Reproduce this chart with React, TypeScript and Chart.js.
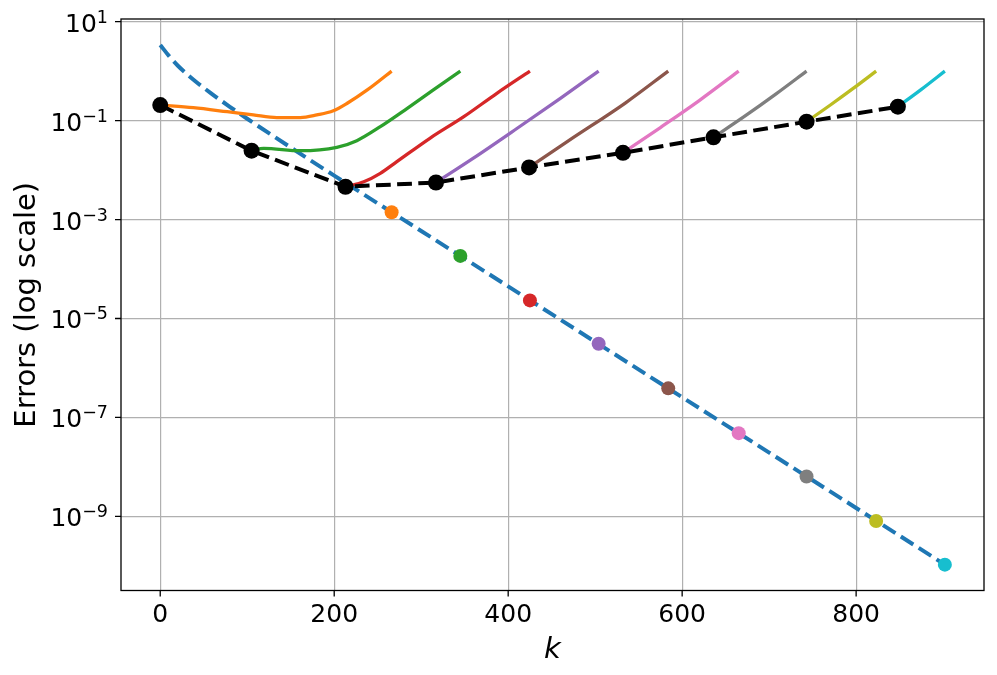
import React, { useEffect, useRef } from 'react';
import { Chart, registerables } from 'chart.js';

Chart.register(...registerables);

// ---- axis ticks ----
const X_TICKS = [0, 200, 400, 600, 800];
const X_TICK_LABELS = ['0', '200', '400', '600', '800'];
const Y_TICKS = [1e1, 1e-1, 1e-3, 1e-5, 1e-7, 1e-9];
const Y_TICK_BASE = '10';
const Y_TICK_EXPONENTS = ['1', '\u22121', '\u22123', '\u22125', '\u22127', '\u22129'];
const X_TITLE = 'k';
const Y_TITLE = 'Errors (log scale)';

// ---- blue dashed reference curve ----
const BLUE_K = [0, 10, 20, 40, 60, 80, 100, 150, 200, 300, 400, 500, 600, 700, 800, 902];
const BLUE_ERR = [3.38, 2.03, 1.3, 0.632, 0.34, 0.19, 0.109, 0.0286, 0.00774, 5.87e-4, 4.46e-5, 3.38e-6, 2.56e-7, 1.95e-8, 1.48e-9, 1.06e-10];

// ---- coloured dots on the blue curve ----
const DOT_K = [266, 345, 425, 504, 584, 665, 743, 823, 902];
const DOT_ERR = [1.4e-3, 1.84e-4, 2.32e-5, 3.08e-6, 3.87e-7, 4.81e-8, 6.41e-9, 8.07e-10, 1.06e-10];

// ---- black dashed restart curve ----
const BLACK_K = [0, 105, 213, 317, 424, 532, 636, 743, 848];
const BLACK_ERR = [0.206, 0.0246, 0.0046, 0.0056, 0.0113, 0.0223, 0.0459, 0.095, 0.191];

// ---- coloured branches ----
const ORANGE_K = [0, 38, 77, 107, 134, 161, 180, 199, 215, 238, 266];
const ORANGE_ERR = [0.206, 0.182, 0.151, 0.13, 0.115, 0.115, 0.13, 0.158, 0.224, 0.416, 1.0];
const GREEN_K = [105, 119, 161, 203, 226, 253, 284, 314, 345];
const GREEN_ERR = [0.0246, 0.0275, 0.0246, 0.0288, 0.0393, 0.0753, 0.177, 0.416, 1.0];
const RED_K = [213, 234, 253, 272, 310, 349, 387, 425];
const RED_ERR = [0.0046, 0.0058, 0.0086, 0.0148, 0.0439, 0.12, 0.356, 1.0];
const PURPLE_K = [317, 360, 410, 460, 504];
const PURPLE_ERR = [0.0056, 0.0174, 0.0692, 0.282, 1.0];
const BROWN_K = [424, 470, 535, 584];
const BROWN_ERR = [0.0113, 0.0398, 0.229, 1.0];
const PINK_K = [532, 575, 620, 665];
const PINK_ERR = [0.0223, 0.0724, 0.257, 1.0];
const GRAY_K = [636, 672, 708, 743];
const GRAY_ERR = [0.0459, 0.123, 0.347, 1.0];
const OLIVE_K = [743, 770, 797, 823];
const OLIVE_ERR = [0.095, 0.204, 0.452, 1.0];
const CYAN_K = [848, 875, 902];
const CYAN_ERR = [0.191, 0.427, 1.0];

const BRANCH_COLORS = ['#ff7f0e', '#2ca02c', '#d62728', '#9467bd', '#8c564b', '#e377c2', '#7f7f7f', '#bcbd22', '#17becf'];

const pts = (ks: number[], vs: number[]) => ks.map((k, i) => ({ x: k, y: vs[i] }));

const FONT = '"DejaVu Sans", "Liberation Sans", sans-serif';

const mplAxes = {
  id: 'mplAxes',
  afterDraw(chart: any) {
    const { ctx, chartArea: a, scales } = chart;
    const xs = scales.x;
    const ys = scales.y;
    ctx.save();
    // frame
    ctx.strokeStyle = '#000';
    ctx.lineWidth = 1.3;
    ctx.strokeRect(a.left, a.top, a.right - a.left, a.bottom - a.top);
    // tick marks
    ctx.beginPath();
    X_TICKS.forEach((v) => {
      const px = xs.getPixelForValue(v);
      ctx.moveTo(px, a.bottom);
      ctx.lineTo(px, a.bottom + 6);
    });
    Y_TICKS.forEach((v) => {
      const py = ys.getPixelForValue(v);
      ctx.moveTo(a.left, py);
      ctx.lineTo(a.left - 6, py);
    });
    ctx.stroke();
    ctx.fillStyle = '#000';
    // x tick labels
    ctx.font = `25px ${FONT}`;
    ctx.textAlign = 'center';
    ctx.textBaseline = 'alphabetic';
    X_TICKS.forEach((v, i) => {
      ctx.fillText(X_TICK_LABELS[i], xs.getPixelForValue(v), a.bottom + 31.5);
    });
    // y tick labels with superscript exponents
    ctx.textAlign = 'left';
    Y_TICKS.forEach((v, i) => {
      const py = ys.getPixelForValue(v);
      const right = a.left - 13;
      ctx.font = `17.5px ${FONT}`;
      const exp = Y_TICK_EXPONENTS[i];
      const ew = ctx.measureText(exp).width;
      ctx.fillText(exp, right - ew, py + 1);
      ctx.font = `25px ${FONT}`;
      const bw = ctx.measureText(Y_TICK_BASE).width;
      ctx.fillText(Y_TICK_BASE, right - ew - bw, py + 10);
    });
    // axis titles
    ctx.font = `italic 29px ${FONT}`;
    ctx.textAlign = 'center';
    ctx.fillText(X_TITLE, (a.left + a.right) / 2, 658);
    ctx.translate(35, (a.top + a.bottom) / 2);
    ctx.rotate(-Math.PI / 2);
    ctx.font = `29px ${FONT}`;
    ctx.fillText(Y_TITLE, 0, 0);
    ctx.restore();
  },
};

export default function App() {
  const ref = useRef<HTMLCanvasElement | null>(null);
  useEffect(() => {
    if (!ref.current) return;
    const branchK = [ORANGE_K, GREEN_K, RED_K, PURPLE_K, BROWN_K, PINK_K, GRAY_K, OLIVE_K, CYAN_K];
    const branchE = [ORANGE_ERR, GREEN_ERR, RED_ERR, PURPLE_ERR, BROWN_ERR, PINK_ERR, GRAY_ERR, OLIVE_ERR, CYAN_ERR];
    const branches = branchK.map((ks, i) => ({
      data: pts(ks, branchE[i]),
      borderColor: BRANCH_COLORS[i],
      backgroundColor: BRANCH_COLORS[i],
      borderWidth: 3.3,
      pointRadius: 0,
      cubicInterpolationMode: 'monotone' as const,
      borderCapStyle: 'butt' as const,
    }));
    const chart = new Chart(ref.current, {
      type: 'line',
      data: {
        datasets: [
          {
            data: pts(BLACK_K, BLACK_ERR),
            borderColor: '#000',
            backgroundColor: '#000',
            borderWidth: 4,
            borderDash: [14.8, 6.4],
            pointRadius: 8,
            pointBackgroundColor: '#000',
            pointBorderWidth: 0,
          },
          {
            data: pts(DOT_K, DOT_ERR),
            showLine: false,
            pointRadius: 7,
            pointBackgroundColor: BRANCH_COLORS,
            pointBorderColor: BRANCH_COLORS,
            pointBorderWidth: 0,
          },
          ...branches,
          {
            data: pts(BLUE_K, BLUE_ERR),
            borderColor: '#1f77b4',
            backgroundColor: '#1f77b4',
            borderWidth: 4,
            borderDash: [14.8, 6.4],
            pointRadius: 0,
            cubicInterpolationMode: 'monotone',
          },
        ],
      },
      options: {
        animation: false,
        responsive: false,
        devicePixelRatio: 1,
        parsing: true,
        layout: { padding: { top: 19, right: 13, left: 0, bottom: 0 } },
        plugins: { legend: { display: false }, tooltip: { enabled: false } },
        scales: {
          x: {
            type: 'linear',
            min: -45.1,
            max: 947,
            afterBuildTicks: (s: any) => { s.ticks = X_TICKS.map((v) => ({ value: v })); },
            afterFit: (s: any) => { s.height = 84.5; },
            ticks: { display: false },
            grid: { color: '#b0b0b0', lineWidth: 1.2, drawTicks: false },
            border: { display: false },
          },
          y: {
            type: 'logarithmic',
            min: 3.18e-11,
            max: 11.3,
            afterBuildTicks: (s: any) => { s.ticks = Y_TICKS.map((v) => ({ value: v })); },
            afterFit: (s: any) => { s.width = 121; },
            ticks: { display: false },
            grid: { color: '#b0b0b0', lineWidth: 1.2, drawTicks: false },
            border: { display: false },
          },
        },
      },
      plugins: [mplAxes],
    });
    return () => chart.destroy();
  }, []);
  return (
    <div style={{ position: 'absolute', left: 0, top: 0, width: 997, height: 675, background: '#fff' }}>
      <canvas ref={ref} width={997} height={675} />
    </div>
  );
}
